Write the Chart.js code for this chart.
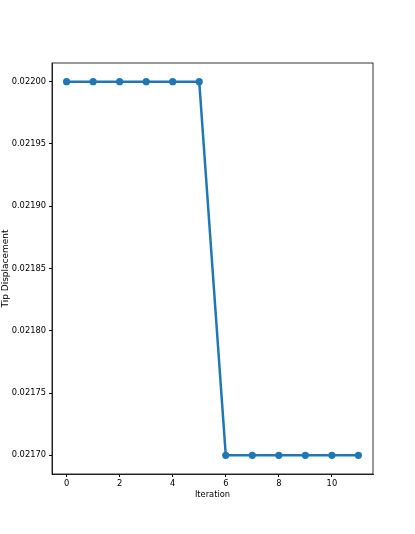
<!DOCTYPE html>
<html>
<head>
<meta charset="utf-8">
<script src="https://cdn.jsdelivr.net/npm/chart.js@4"></script>
<style>
  html, body { margin: 0; padding: 0; background: #fff; }
  #wrap { width: 415px; height: 534px; }
</style>
</head>
<body>
<div id="wrap"><canvas id="chart" width="415" height="534"></canvas></div>
<script>
// data
const iterations = [0, 1, 2, 3, 4, 5, 6, 7, 8, 9, 10, 11];
const tipDisplacement = [0.0220, 0.0220, 0.0220, 0.0220, 0.0220, 0.0220,
                         0.0217, 0.0217, 0.0217, 0.0217, 0.0217, 0.0217];
const xTicks = [0, 2, 4, 6, 8, 10];
const yTicks = [0.02170, 0.02175, 0.02180, 0.02185, 0.02190, 0.02195, 0.02200];

const FONT = { family: 'DejaVu Sans', size: 8.3 };

// matplotlib draws a box all the way round the axes
const frame = {
  id: 'frame',
  afterDraw(chart) {
    const { ctx, chartArea: a } = chart;
    ctx.save();
    ctx.strokeStyle = '#000';
    ctx.lineWidth = 0.8;
    ctx.strokeRect(a.left, a.top, a.right - a.left, a.bottom - a.top);
    ctx.restore();
  }
};

const points = iterations.map((x, i) => ({ x: x, y: tipDisplacement[i] }));

new Chart(document.getElementById('chart'), {
  type: 'line',
  data: {
    datasets: [{
      data: points,
      borderColor: '#1f77b4',
      backgroundColor: '#1f77b4',
      borderWidth: 2.5,
      pointRadius: 3.6,
      pointBorderWidth: 0,
      tension: 0
    }]
  },
  options: {
    responsive: false,
    animation: false,
    layout: { padding: { top: 63, right: 42, bottom: 34, left: 0 } },
    plugins: { legend: { display: false }, tooltip: { enabled: false } },
    scales: {
      x: {
        type: 'linear',
        min: -0.55,
        max: 11.55,
        afterBuildTicks(scale) { scale.ticks = xTicks.map(v => ({ value: v })); },
        afterFit(scale) { scale.height = 26; },
        grid: { drawOnChartArea: false, tickLength: 3, tickColor: '#000', color: '#000' },
        border: { color: '#000', width: 0.8 },
        ticks: { color: '#000', font: FONT, padding: 2, maxRotation: 0 },
        title: { display: true, text: 'Iteration', color: '#000', font: FONT, padding: 0 }
      },
      y: {
        min: 0.021685,
        max: 0.022015,
        afterBuildTicks(scale) { scale.ticks = yTicks.map(v => ({ value: v })); },
        afterFit(scale) { scale.width = 52; },
        grid: { drawOnChartArea: false, tickLength: 3, tickColor: '#000', color: '#000' },
        border: { color: '#000', width: 0.8 },
        ticks: {
          color: '#000',
          font: FONT,
          padding: 3,
          callback: v => v.toFixed(5)
        },
        title: {
          display: true,
          text: 'Tip Displacement',
          color: '#000',
          font: { family: 'DejaVu Sans', size: 9 },
          padding: 0
        }
      }
    }
  },
  plugins: [frame]
});
</script>
</body>
</html>
